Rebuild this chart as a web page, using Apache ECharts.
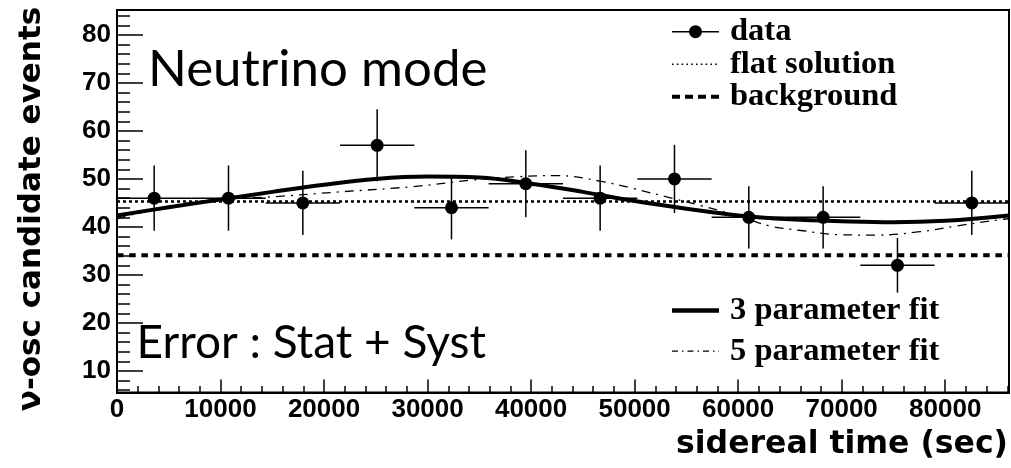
<!DOCTYPE html>
<html>
<head>
<meta charset="utf-8">
<script src="https://cdn.jsdelivr.net/npm/echarts@6/dist/echarts.min.js"></script>
<style>
html,body{margin:0;padding:0;background:#fff;}
#chart{width:1011px;height:468px;}
</style>
</head>
<body>
<div id="chart"></div>
<script>
// ---- data ----
const dataX = [3590, 10770, 17950, 25130, 32310, 39490, 46670, 53850, 61030, 68210, 75390, 82570];
const dataY = [46, 46, 45, 57, 44, 49, 46, 50, 42, 42, 32, 45];
const dataYErr = [6.8, 6.8, 6.7, 7.5, 6.6, 7.0, 6.8, 7.1, 6.5, 6.5, 5.7, 6.7];
const dataXErr = [3590, 3590, 3590, 3590, 3590, 3590, 3590, 3590, 3590, 3590, 3590, 3590];

const flatX = [0, 86164];
const flatY = [45.3, 45.3];
const bgX = [0, 86164];
const bgY = [34.1, 34.1];

const fit3X = [0, 5000, 10000, 15000, 20000, 25000, 30000, 35000, 40000, 45000, 50000, 55000, 60000, 65000, 70000, 75000, 80000, 86164];
const fit3Y = [42.4, 44.1, 45.7, 47.3, 48.8, 50.0, 50.5, 50.3, 49.0, 47.3, 45.4, 43.8, 42.4, 41.6, 41.2, 41.0, 41.3, 42.4];

const fit5X = [0, 5000, 10000, 14430, 21500, 28600, 34400, 38600, 42500, 46640, 49860, 53720, 56300, 60000, 63060, 66280, 69500, 73370, 77560, 81100, 85600, 86164];
const fit5Y = [41.7, 44.3, 45.8, 46.2, 47.3, 48.4, 49.8, 50.45, 50.7, 49.55, 48.0, 45.9, 44.5, 42.3, 40.2, 39.2, 38.4, 38.3, 39.0, 40.2, 41.6, 41.7];

const xTicks = [0, 10000, 20000, 30000, 40000, 50000, 60000, 70000, 80000];
const xMinorTicks = [2000, 4000, 6000, 8000, 12000, 14000, 16000, 18000, 22000, 24000, 26000, 28000,
  32000, 34000, 36000, 38000, 42000, 44000, 46000, 48000, 52000, 54000, 56000, 58000,
  62000, 64000, 66000, 68000, 72000, 74000, 76000, 78000, 82000, 84000, 86000];
const yTicks = [10, 20, 30, 40, 50, 60, 70, 80];
const yMinorTicks = [6, 8, 12, 14, 16, 18, 22, 24, 26, 28, 32, 34, 36, 38, 42, 44, 46, 48,
  52, 54, 56, 58, 62, 64, 66, 68, 72, 74, 76, 78, 82, 84];

const xRange = [0, 86164];
const yRange = [5.5, 85.2];

// ---- legend icon helpers (style only) ----
const ICON_W = 47;
function dashIcon(pattern, thick) {
  let x = 0, i = 0, d = '';
  while (x < ICON_W) {
    const len = pattern[i % pattern.length];
    if (i % 2 === 0) {
      const x2 = Math.min(ICON_W, x + len);
      d += 'M' + x + ',0L' + x2 + ',0L' + x2 + ',' + thick + 'L' + x + ',' + thick + 'Z';
    }
    x += len; i++;
  }
  d += 'M' + (ICON_W - 0.01) + ',0L' + ICON_W + ',0L' + ICON_W + ',' + thick + 'L' + (ICON_W - 0.01) + ',' + thick + 'Z';
  return 'path://' + d;
}
const iconData = 'path://M0,6.3L47,6.3L47,7.7L0,7.7Z' +
  'M17,7A6.5,6.5,0,0,1,23.5,0.5A6.5,6.5,0,0,1,30,7A6.5,6.5,0,0,1,23.5,13.5A6.5,6.5,0,0,1,17,7Z';
const iconFlat = dashIcon([1.6, 3.2], 1.6);
const iconBg = dashIcon([8, 5], 4);
const iconFit3 = dashIcon([47, 0], 4.5);
const iconFit5 = dashIcon([6, 4, 1.5, 4], 1.3);

// ---- chart ----
const chart = echarts.init(document.getElementById('chart'), null, {renderer: 'canvas'});
const tickFont = {fontFamily: 'Liberation Sans', fontWeight: 'bold', fontSize: 26, color: '#000'};
const legendFont = {fontFamily: 'Liberation Serif', fontWeight: 'bold', fontSize: 32.5, color: '#000', lineHeight: 32};

const pairs = (xs, ys) => xs.map((x, i) => [x, ys[i]]);

const option = {
  animation: false,
  backgroundColor: '#fff',
  grid: {left: 117, right: 2, top: 10, bottom: 75.5, show: true, borderColor: '#000', borderWidth: 2, containLabel: false, outerBoundsMode: 'none'},
  xAxis: [
    {type: 'value', min: xRange[0], max: xRange[1], position: 'bottom',
     axisLine: {show: true, onZero: false, lineStyle: {color: '#000', width: 2}},
     axisTick: {show: true, inside: true, length: 13, customValues: xTicks, lineStyle: {color: '#000', width: 1.5}},
     axisLabel: {show: true, customValues: xTicks, margin: 4, formatter: v => String(v), ...tickFont},
     splitLine: {show: false}},
    {type: 'value', min: xRange[0], max: xRange[1], position: 'bottom',
     axisLine: {show: false, onZero: false},
     axisTick: {show: true, inside: true, length: 6.5, customValues: xMinorTicks, lineStyle: {color: '#000', width: 1.5}},
     axisLabel: {show: false},
     splitLine: {show: false}}
  ],
  yAxis: [
    {type: 'value', min: yRange[0], max: yRange[1], position: 'left',
     axisLine: {show: true, onZero: false, lineStyle: {color: '#000', width: 2}},
     axisTick: {show: true, inside: true, length: 26, customValues: yTicks, lineStyle: {color: '#000', width: 1.5}},
     axisLabel: {show: true, customValues: yTicks, margin: 6, ...tickFont},
     splitLine: {show: false}},
    {type: 'value', min: yRange[0], max: yRange[1], position: 'left',
     axisLine: {show: false, onZero: false},
     axisTick: {show: true, inside: true, length: 13, customValues: yMinorTicks, lineStyle: {color: '#000', width: 1.5}},
     axisLabel: {show: false},
     splitLine: {show: false}}
  ],
  legend: [
    {orient: 'vertical', left: 672, top: 12.7, padding: 0, itemGap: -5.5, itemWidth: 47, itemHeight: 14,
     selectedMode: false, symbolKeepAspect: true,
     itemStyle: {borderWidth: 0, opacity: 1, color: '#000'},
     textStyle: {...legendFont, padding: [0, 0, 6, 6]},
     data: [
       {name: 'data', icon: iconData},
       {name: 'flat solution', icon: iconFlat},
       {name: 'background', icon: iconBg}
     ]},
    {orient: 'vertical', left: 672, top: 294, padding: 0, itemGap: 7.7, itemWidth: 47, itemHeight: 14,
     selectedMode: false, symbolKeepAspect: true,
     itemStyle: {borderWidth: 0, opacity: 1, color: '#000'},
     textStyle: {...legendFont, padding: [0, 0, 0, 6]},
     data: [{name: '3 parameter fit', icon: iconFit3}, {name: '5 parameter fit', icon: iconFit5}]}
  ],
  graphic: [
    {type: 'text', x: 148, y: 69.3, silent: true,
     style: {text: 'Neutrino mode', font: '51px Lato', fill: '#000', textAlign: 'left', textVerticalAlign: 'middle'}},
    {type: 'text', x: 136.5, y: 342.7, silent: true,
     style: {text: 'Error : Stat + Syst', font: '46px Lato', fill: '#000', textAlign: 'left', textVerticalAlign: 'middle'}},
    {type: 'text', x: 1008, y: 445, silent: true,
     style: {text: 'sidereal time (sec)', font: 'bold 31.5px "DejaVu Sans"', fill: '#000', textAlign: 'right', textVerticalAlign: 'middle'}},
    {type: 'text', x: 32.3, y: 209, rotation: Math.PI / 2, silent: true,
     style: {text: 'ν-osc candidate events', font: 'bold 31px "DejaVu Sans"', fill: '#000', textAlign: 'center', textVerticalAlign: 'middle'}}
  ],
  series: [
    {name: 'flat solution', type: 'line', xAxisIndex: 0, yAxisIndex: 0, symbol: 'none', silent: true,
     data: pairs(flatX, flatY), lineStyle: {color: '#000', width: 2.5, type: [3, 3], cap: 'butt'}, itemStyle: {color: '#000'}, z: 2},
    {name: 'background', type: 'line', xAxisIndex: 0, yAxisIndex: 0, symbol: 'none', silent: true,
     data: pairs(bgX, bgY), lineStyle: {color: '#000', width: 3.8, type: [6.5, 5.7], cap: 'butt'}, itemStyle: {color: '#000'}, z: 2},
    {name: '3 parameter fit', type: 'line', xAxisIndex: 0, yAxisIndex: 0, symbol: 'none', silent: true, smooth: 0.4,
     data: pairs(fit3X, fit3Y), lineStyle: {color: '#000', width: 4}, itemStyle: {color: '#000'}, z: 3},
    {name: '5 parameter fit', type: 'line', xAxisIndex: 0, yAxisIndex: 0, symbol: 'none', silent: true, smooth: 0.4,
     data: pairs(fit5X, fit5Y), lineStyle: {color: '#000', width: 1.3, type: [9, 6, 2, 6]}, itemStyle: {color: '#000'}, z: 3},
    {name: 'errors', type: 'custom', xAxisIndex: 0, yAxisIndex: 0, silent: true, z: 4,
     data: dataX.map((x, i) => [x, dataY[i], dataXErr[i], dataYErr[i]]),
     encode: {x: 0, y: 1},
     renderItem: function (params, api) {
       const x = api.value(0), y = api.value(1), ex = api.value(2), ey = api.value(3);
       const l = api.coord([x - ex, y]), r = api.coord([x + ex, y]);
       const t = api.coord([x, y + ey]), b = api.coord([x, y - ey]);
       const st = {stroke: '#000', lineWidth: 1.5};
       return {type: 'group', children: [
         {type: 'line', shape: {x1: l[0], y1: l[1], x2: r[0], y2: r[1]}, style: st},
         {type: 'line', shape: {x1: t[0], y1: t[1], x2: b[0], y2: b[1]}, style: st}
       ]};
     }},
    {name: 'data', type: 'scatter', xAxisIndex: 0, yAxisIndex: 0, silent: true, z: 5,
     symbol: 'circle', symbolSize: 13, itemStyle: {color: '#000', opacity: 1},
     data: pairs(dataX, dataY)}
  ]
};
chart.setOption(option);
</script>
</body>
</html>
